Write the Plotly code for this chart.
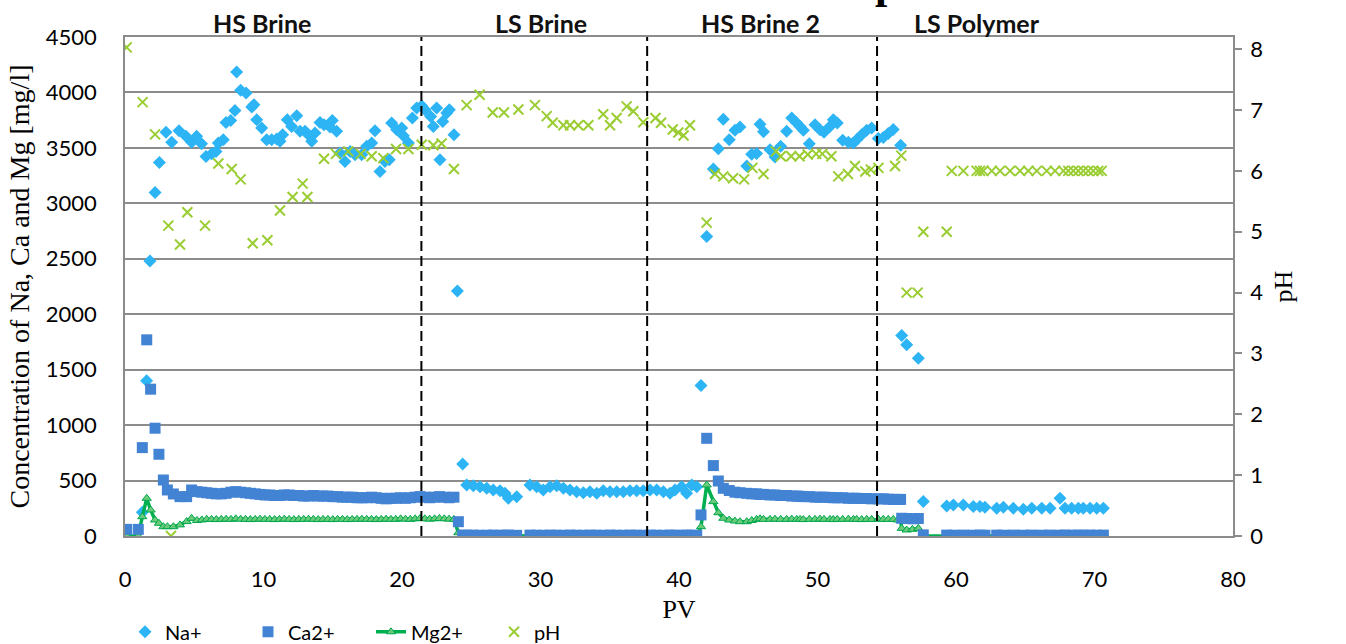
import plotly.graph_objects as go

# ---------------- data ----------------
pv_na = [1.25, 1.56, 1.80, 2.17, 2.48, 2.96, 3.37, 3.90, 4.40, 4.81, 5.17, 5.53, 5.85, 6.26, 6.57, 6.74,
         7.10, 7.29, 7.63, 7.94, 8.06, 8.35, 8.74, 9.15, 9.31, 9.51, 9.87, 10.23, 10.59, 10.95, 11.19,
         11.38, 11.72, 12.03, 12.40, 12.64, 13.00, 13.24, 13.48, 13.72, 14.08, 14.37, 14.80, 14.97,
         15.28, 15.52, 15.88, 16.25, 16.61, 17.09, 17.45, 17.81, 18.05, 18.41, 18.77, 19.08, 19.25,
         19.62, 19.98, 20.10, 20.46, 20.75, 21.06, 21.42, 21.66, 22.07, 22.26, 22.50, 22.74, 22.94,
         23.23, 23.42, 23.75, 24.00, 24.38,
         24.67, 25.15, 25.63, 26.12, 26.59, 27.08, 27.44, 27.68, 28.28, 29.24, 29.72, 30.20, 30.69,
         31.17, 31.65, 32.13, 32.61, 33.09, 33.57, 34.06, 34.53, 35.02, 35.50, 35.98, 36.46, 36.94,
         37.42, 37.91, 38.39, 38.87, 39.35, 39.71, 40.19, 40.55, 40.92, 41.28, 41.59, 42.00,
         42.48, 42.84, 43.20, 43.63, 44.04, 44.40, 44.89, 45.25, 45.60, 45.85, 46.10, 46.57, 46.93,
         47.34, 47.77, 48.14, 48.50, 48.74, 48.98, 49.41, 49.82, 50.18, 50.47, 50.90, 51.14, 51.43,
         51.82, 52.23, 52.59, 52.83, 53.19, 53.55, 53.91, 54.39, 54.75, 55.11, 55.47, 56.00,
         56.08, 56.44, 57.28, 57.64, 59.33, 59.81, 60.53, 61.25, 61.73, 62.09, 62.94, 63.42, 64.14,
         64.86, 65.47, 66.19, 66.79, 67.51, 67.87, 68.35, 68.83, 69.19, 69.68, 70.16, 70.64]
na = [214, 1399, 2480, 3098, 3369, 3640, 3550, 3655, 3604, 3550, 3604, 3538, 3423, 3448, 3468, 3544,
      3574, 3730, 3748, 3838, 4185, 4019, 3995, 3869, 3890, 3754, 3679, 3574, 3574, 3580, 3559,
      3619, 3754, 3694, 3790, 3649, 3649, 3619, 3559, 3634, 3730, 3709, 3688, 3748,
      3649, 3454, 3378, 3468, 3439, 3439, 3514, 3544, 3655, 3288, 3378, 3393, 3724,
      3664, 3679, 3610, 3544, 3770, 3860, 3881, 3845, 3784, 3694, 3860, 3393, 3739,
      3815, 3845, 3619, 2210, 650,
      460, 454, 445, 430, 415, 409, 385, 340, 355, 460, 445, 415, 445,
      454, 430, 415, 400, 391, 400, 385, 409, 400, 400, 400, 409, 409,
      409, 415, 415, 400, 385, 415, 445, 385, 460, 445, 1357, 2701,
      3309, 3493, 3759, 3574, 3658, 3688, 3337, 3443, 3450, 3714, 3645, 3484, 3418,
      3514, 3649, 3770, 3724, 3694, 3658, 3538, 3709, 3664, 3640, 3694, 3754, 3724,
      3568, 3550, 3544, 3574, 3619, 3658, 3679, 3585, 3594, 3630, 3666, 3524,
      1809, 1724, 1604, 310, 271, 280, 280, 265, 265, 259, 250, 259, 250,
      241, 250, 250, 250, 340, 250, 250, 250, 250, 250, 250, 250]

pv_cm = [0.12, 0.96, 1.25, 1.57, 1.85, 2.17, 2.45, 2.77, 3.06, 3.49, 3.97, 4.45, 4.81,
         5.20, 5.55, 5.90, 6.25, 6.60, 6.95, 7.30, 7.65, 8.00, 8.35, 8.70, 9.05, 9.40, 9.75,
         10.10, 10.45, 10.80, 11.15, 11.50, 11.85, 12.20, 12.55, 12.90, 13.25, 13.60, 13.95,
         14.30, 14.65, 15.00, 15.35, 15.70, 16.05, 16.40, 16.75, 17.10, 17.45, 17.80, 18.15,
         18.50, 18.85, 19.20, 19.55, 19.90, 20.25, 20.60, 20.95, 21.30, 21.65, 22.00, 22.35,
         22.70, 23.05, 23.40, 23.75, 24.07,
         24.38, 24.67, 25.15, 25.63, 26.12, 26.59, 27.08, 27.44, 27.68, 28.28, 29.24, 29.72,
         30.20, 30.69, 31.17, 31.65, 32.13, 32.61, 33.09, 33.57, 34.06, 34.53, 35.02, 35.50,
         35.98, 36.46, 36.94, 37.42, 37.91, 38.39, 38.87, 39.35, 39.71, 40.19, 40.55, 40.92, 41.28,
         41.59, 42.00, 42.48, 42.84, 43.20, 43.63, 44.04, 44.40, 44.89, 45.25, 45.60, 45.85,
         46.10, 46.57, 46.93, 47.34, 47.77, 48.14, 48.50, 48.74, 48.98, 49.41, 49.82, 50.18,
         50.47, 50.90, 51.14, 51.43, 51.82, 52.23, 52.59, 52.83, 53.19, 53.55, 53.91, 54.39,
         54.75, 55.11, 55.47, 55.80, 56.00,
         56.08, 56.44, 56.85, 57.28, 57.64, 59.33, 59.81, 60.53, 61.25, 61.73, 62.09, 62.94,
         63.42, 64.14, 64.86, 65.47, 66.19, 66.79, 67.51, 67.87, 68.35, 68.83, 69.19, 69.68,
         70.16, 70.64]
ca = [60, 60, 797, 1769, 1324, 972, 737, 505, 415, 379, 355, 355, 415,
      400, 395, 390, 385, 380, 380, 385, 395, 400, 395, 390, 385, 380, 375,
      370, 370, 365, 365, 370, 370, 365, 365, 360, 360, 365, 360,
      360, 360, 355, 355, 350, 350, 350, 345, 345, 345, 350, 345,
      340, 335, 340, 340, 345, 340, 345, 350, 355, 350, 345, 350,
      355, 350, 345, 350, 129,
      8, 7, 8, 6, 7, 8, 6, 7, 8, 6, 8, 7,
      6, 8, 7, 6, 8, 7, 6, 8, 7, 6, 8, 7,
      6, 8, 7, 6, 8, 7, 6, 8, 7, 6, 8, 7, 6,
      190, 881, 635, 496, 430, 410, 395, 390, 385, 380, 380, 375,
      375, 370, 370, 365, 365, 360, 360, 358, 355, 355, 350, 350,
      350, 348, 345, 345, 345, 340, 340, 340, 338, 338, 335, 335,
      335, 332, 330, 330, 330,
      160, 158, 155, 158, 10, 8, 7, 8, 7, 8, 7, 8,
      7, 8, 7, 8, 7, 8, 7, 8, 7, 8, 7, 8,
      7, 8]
mg = [0, 0, 174, 340, 235, 144, 115, 84, 84, 84, 100, 130, 160,
      140, 145, 150, 150, 148, 150, 152, 150, 155, 152, 150, 148, 150, 152,
      150, 150, 148, 150, 152, 150, 148, 150, 150, 152, 150, 148,
      150, 150, 148, 150, 150, 148, 150, 150, 152, 150, 150, 148,
      150, 152, 150, 150, 155, 152, 150, 155, 158, 155, 152, 155,
      158, 155, 152, 150, 30,
      2, 1, 2, 1, 2, 1, 2, 1, 2, 1, 2, 1,
      2, 1, 2, 1, 2, 1, 2, 1, 2, 1, 2, 1,
      2, 1, 2, 1, 2, 1, 2, 1, 2, 1, 2, 1, 2,
      84, 460, 310, 210, 160, 144, 135, 129, 129, 140, 150, 155,
      150, 150, 152, 150, 150, 152, 150, 150, 148, 150, 150, 152,
      150, 150, 148, 150, 150, 152, 150, 150, 148, 150, 150, 152,
      150, 150, 150, 145, 140,
      69, 54, 60, 69, 0, 0, 0, 0, 0, 0, 0, 0,
      0, 0, 0, 0, 0, 0, 0, 0, 0, 0, 0, 0,
      0, 0]

pv_ph = [0.12, 1.27, 2.17, 3.13, 3.32, 3.97, 4.50, 5.78, 6.74, 7.70, 8.35, 9.22, 10.28, 11.19,
         12.10, 12.83, 13.17, 14.37, 15.23, 16.12, 17.02, 17.81, 18.65, 19.57, 20.46, 21.42,
         22.26, 22.86, 23.75, 24.67, 25.60, 26.55, 27.36, 28.40, 29.60, 30.45, 30.88, 31.65,
         32.13, 32.73, 33.45, 34.53, 35.02, 35.50, 36.22, 36.70, 37.42, 38.30, 38.70, 39.55,
         39.95, 40.33, 40.79, 42.00, 42.60, 43.20, 43.90, 44.70, 45.30, 46.10, 47.00, 47.35,
         48.10, 48.70, 49.30, 49.90, 50.35, 51.00, 51.50, 52.20, 52.70, 53.45, 53.85, 54.40,
         55.60, 56.05, 56.44, 57.23, 57.64, 59.33, 59.69, 60.53, 61.49, 61.73, 61.97, 62.58,
         63.18, 63.90, 64.62, 65.22, 65.83, 66.55, 67.15, 67.75, 68.11, 68.47, 68.83, 69.19,
         69.55, 69.91, 70.27, 70.52]
ph = [8.03, 7.13, 6.60, 5.10, 0.00, 4.79, 5.32, 5.10, 6.12, 6.03, 5.86, 4.81, 4.86, 5.35,
      5.57, 5.79, 5.57, 6.20, 6.28, 6.32, 6.28, 6.24, 6.21, 6.36, 6.36, 6.43,
      6.42, 6.45, 6.03, 7.08, 7.25, 6.96, 6.96, 7.01, 7.08, 6.90, 6.79, 6.75,
      6.75, 6.75, 6.75, 6.93, 6.75, 6.87, 7.06, 6.98, 6.80, 6.87, 6.79, 6.68,
      6.63, 6.58, 6.75, 5.15, 5.95, 5.91, 5.88, 5.86, 6.05, 5.95, 6.32, 6.24,
      6.24, 6.24, 6.27, 6.28, 6.28, 6.24, 5.91, 5.95, 6.08, 5.99, 6.02, 6.05,
      6.08, 6.25, 4.00, 4.00, 5.00, 5.00, 6.00, 6.00, 6.00, 6.00, 6.00, 6.00,
      6.00, 6.00, 6.00, 6.00, 6.00, 6.00, 6.00, 6.00, 6.00, 6.00, 6.00, 6.00,
      6.00, 6.00, 6.00, 6.00]

stage_bounds = [21.4, 37.7, 54.3]
stage_names = ["HS Brine", "LS Brine", "HS Brine 2", "LS Polymer"]
stage_label_x = [9.9, 30.0, 45.9, 61.5]

# ---------------- styling ----------------
SANS = "Lato, 'Open Sans', sans-serif"
SERIF = "'Liberation Serif', 'DejaVu Serif', serif"
GRID = "#8C8C8C"

fig = go.Figure()
fig.add_trace(go.Scatter(x=pv_na, y=na, mode="markers", name="Na+", legendrank=1,
                         marker=dict(symbol="diamond", size=10, color="#2DB4F5")))
fig.add_trace(go.Scatter(x=pv_cm, y=mg, mode="lines+markers", name="Mg2+", legendrank=3,
                         line=dict(color="#00B050", width=3.5),
                         marker=dict(symbol="triangle-up", size=8, color="#6CCB7A",
                                     line=dict(color="#00A84F", width=1))))
fig.add_trace(go.Scatter(x=pv_cm, y=ca, mode="markers", name="Ca2+", legendrank=2,
                         marker=dict(symbol="square", size=11, color="#4383D4")))
fig.add_trace(go.Scatter(x=pv_ph, y=ph, mode="markers", name="pH", legendrank=4, yaxis="y2",
                         marker=dict(symbol="x-thin", size=10, color="#9ACD32",
                                     line=dict(color="#9ACD32", width=2))))

shapes = []
for b in stage_bounds:
    shapes.append(dict(type="line", xref="x", yref="paper", x0=b, x1=b, y0=0, y1=1,
                       line=dict(color="black", width=2, dash="10px,5px")))

annotations = []
for name, xc in zip(stage_names, stage_label_x):
    annotations.append(dict(text="<b>%s</b>" % name, x=xc, xref="x", y=1.028, yref="paper",
                            showarrow=False, xanchor="center", yanchor="middle",
                            font=dict(family=SANS, size=25, color="#111")))
# cut-off title glyph at the top edge
annotations.append(dict(text="<b>p</b>", x=55.0, xref="x", y=1, yref="paper", yshift=27,
                        showarrow=False, xanchor="center", yanchor="bottom",
                        font=dict(family=SERIF, size=44, color="black")))

fig.update_layout(
    width=1346, height=644,
    margin=dict(l=125, r=113, t=37, b=108, autoexpand=False),
    paper_bgcolor="white", plot_bgcolor="white",
    showlegend=True,
    legend=dict(orientation="h", x=0.0, xanchor="left", y=-0.192, yanchor="middle",
                font=dict(family=SANS, size=20, color="black"),
                entrywidth=78, entrywidthmode="pixels", itemwidth=30,
                bgcolor="rgba(0,0,0,0)"),
    xaxis=dict(range=[0, 80], dtick=10, tick0=0, showgrid=False, zeroline=False,
               showline=True, linecolor=GRID, linewidth=1.5, mirror=True, ticks="",
               tickfont=dict(family=SANS, size=22, color="black"), ticklabelstandoff=23,
               title=dict(text="PV", font=dict(family=SERIF, size=26, color="black"), standoff=9)),
    yaxis=dict(range=[0, 4500], dtick=500, tick0=0, showgrid=True, gridcolor=GRID, gridwidth=1.5,
               zeroline=False, showline=True, linecolor=GRID, linewidth=1.5, ticks="",
               tickfont=dict(family=SANS, size=22, color="black"), ticklabelstandoff=22,
               title=dict(text="Concentration of Na, Ca and Mg [mg/l]",
                          font=dict(family=SERIF, size=28, color="black"), standoff=8)),
    yaxis2=dict(range=[0, 8.2], dtick=1, tick0=0, overlaying="y", side="right", showgrid=False,
                zeroline=False, showline=True, linecolor=GRID, linewidth=1.5,
                ticks="outside", ticklen=7, tickcolor=GRID, tickwidth=1.5,
                tickfont=dict(family=SANS, size=22, color="black"), ticklabelstandoff=4,
                title=dict(text="pH", font=dict(family=SERIF, size=26, color="black"), standoff=12)),
    shapes=shapes,
    annotations=annotations,
)

fig.write_html("out.html", config={"displayModeBar": False},
               post_script="document.body.style.margin='0';")
